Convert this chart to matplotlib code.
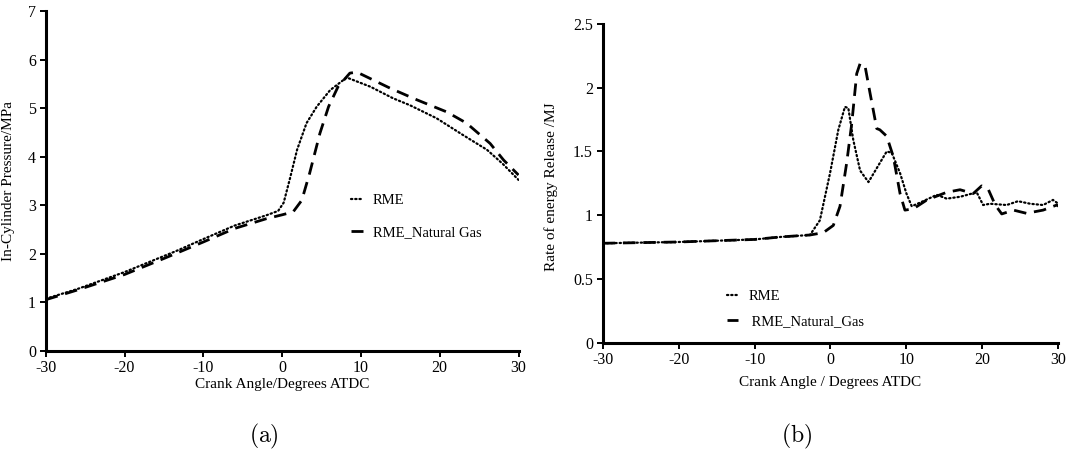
import matplotlib
matplotlib.use("Agg")
import matplotlib.pyplot as plt

plt.rcParams["font.family"] = ["Liberation Serif", "DejaVu Serif"]
plt.rcParams["axes.unicode_minus"] = False
plt.rcParams["mathtext.fontset"] = "cm"

# (a) in-cylinder pressure vs crank angle
angle_a_rme = [-30, -26, -20, -13.5, -10, -6, -2, -0.5, 0.2, 1.0, 1.9, 3.1, 4.4,
               6.1, 8.2, 11.2, 14.1, 16.2, 19.6, 23.0, 26.0, 28.0, 30.0]
p_rme = [1.07, 1.27, 1.62, 2.05, 2.30, 2.58, 2.79, 2.88, 3.05, 3.55, 4.14, 4.69, 5.03,
         5.37, 5.63, 5.44, 5.20, 5.06, 4.79, 4.44, 4.14, 3.85, 3.52]

angle_a_ng = [-30, -26, -20, -15, -10, -6, -2, 0, 1.4, 2.5, 3.5, 4.8, 5.9, 7.1,
              8.6, 9.5, 13.7, 17.1, 20.9, 23.4, 26.4, 28.1, 30.0]
p_ng = [1.05, 1.25, 1.57, 1.90, 2.24, 2.52, 2.72, 2.80, 2.86, 3.10, 3.66, 4.48, 5.03, 5.44,
        5.72, 5.74, 5.41, 5.17, 4.92, 4.69, 4.27, 3.93, 3.62]

# (b) rate of energy release vs crank angle
angle_b_rme = [-30, -20, -10, -6.5, -2.7, -1.4, -0.06, 1.03, 1.9, 2.35, 3.0, 3.9, 5.0,
               6.1, 7.4, 8.06, 9.16, 10.0, 10.7, 12.2, 14.0, 15.3, 17.1, 19.25, 20.1,
               21.0, 23.2, 24.7, 26.3, 28.0, 29.3, 30.0]
rre_rme = [0.78, 0.79, 0.81, 0.83, 0.845, 0.96, 1.33, 1.67, 1.85, 1.84, 1.59, 1.35, 1.26,
           1.37, 1.50, 1.49, 1.33, 1.17, 1.07, 1.11, 1.16, 1.13, 1.145, 1.18, 1.08,
           1.09, 1.08, 1.11, 1.09, 1.08, 1.12, 1.09]

angle_b_ng = [-30, -20, -10, -6.5, -2.7, -0.95, 0.37, 1.25, 2.13, 2.8, 3.45, 3.9, 4.55,
              5.2, 6.09, 6.5, 7.4, 8.27, 9.16, 9.8, 10.9, 12.7, 15.3, 17.06, 18.8, 19.9,
              20.8, 21.7, 22.55, 24.1, 25.8, 28.0, 29.8, 30.0]
rre_ng = [0.78, 0.79, 0.81, 0.83, 0.845, 0.863, 0.92, 1.07, 1.41, 1.72, 2.11, 2.19, 2.17,
          1.96, 1.68, 1.67, 1.62, 1.46, 1.17, 1.04, 1.05, 1.12, 1.18, 1.20, 1.17, 1.23,
          1.20, 1.08, 1.01, 1.04, 1.015, 1.04, 1.08, 1.07]

x_ticks = [-30, -20, -10, 0, 10, 20, 30]
y_ticks_a = [0, 1, 2, 3, 4, 5, 6, 7]
y_ticks_b = [0, 0.5, 1, 1.5, 2, 2.5]
y_ticklabels_b = ["0", "0.5", "1", "1.5", "2", "2.5"]

W, H = 1068, 458
fig = plt.figure(figsize=(W / 100, H / 100), dpi=100)


def px_axes(x0, y0, x1, y1):
    return fig.add_axes([x0 / W, 1 - y1 / H, (x1 - x0) / W, (y1 - y0) / H])


ax_a = px_axes(45.7, 11, 518.5, 350.7)
ax_b = px_axes(602.7, 24, 1058.3, 342.7)

dot_style = dict(color="black", lw=1.6, linestyle=(0, (0.6, 1.3)), dash_capstyle="round")
dash_style = dict(color="black", lw=2.0, linestyle=(0, (4.5, 2.8)))

for ax in (ax_a, ax_b):
    for side in ("top", "right"):
        ax.spines[side].set_visible(False)
    for side in ("left", "bottom"):
        ax.spines[side].set_linewidth(2.2)
    ax.tick_params(direction="out", length=4, width=1.4, labelsize=11.5, pad=3)
    ax.set_xlim(-30, 30)
    ax.set_xticks(x_ticks)
    ax.set_xticklabels([str(t) for t in x_ticks])

# panel (a)
ax_a.plot(angle_a_rme, p_rme, label="RME", **dot_style)
ax_a.plot(angle_a_ng, p_ng, label="RME_Natural Gas", **dash_style)
ax_a.set_ylim(0, 7)
ax_a.set_yticks(y_ticks_a)
ax_a.set_xlabel("Crank Angle/Degrees ATDC", fontsize=11)
ax_a.set_ylabel("In-Cylinder Pressure/MPa", fontsize=11)
ax_a.xaxis.set_label_coords(0.5, -0.08)
ax_a.yaxis.set_label_coords(-0.064, 0.5)
ax_a.legend(loc="center left", bbox_to_anchor=(0.618, 0.395), frameon=False,
            fontsize=10.5, handlelength=0.8, handletextpad=0.7, labelspacing=1.25)

# panel (b)
ax_b.plot(angle_b_rme, rre_rme, label="RME", **dot_style)
ax_b.plot(angle_b_ng, rre_ng, label=" RME_Natural_Gas", **dash_style)
ax_b.set_ylim(0, 2.5)
ax_b.set_yticks(y_ticks_b)
ax_b.set_yticklabels(y_ticklabels_b)
ax_b.set_xlabel("Crank Angle / Degrees ATDC", fontsize=11)
ax_b.set_ylabel("Rate of energy Release /MJ", fontsize=11)
ax_b.xaxis.set_label_coords(0.5, -0.105)
ax_b.yaxis.set_label_coords(-0.098, 0.49)
ax_b.legend(loc="center left", bbox_to_anchor=(0.243, 0.106), frameon=False,
            fontsize=10.5, handlelength=0.8, handletextpad=0.7, labelspacing=0.8)

fig.text(264 / W, 1 - 436 / H, r"$\mathrm{(a)}$", fontsize=17, ha="center", va="center")
fig.text(797 / W, 1 - 436 / H, r"$\mathrm{(b)}$", fontsize=17, ha="center", va="center")

fig.savefig("out.png", dpi=100)
